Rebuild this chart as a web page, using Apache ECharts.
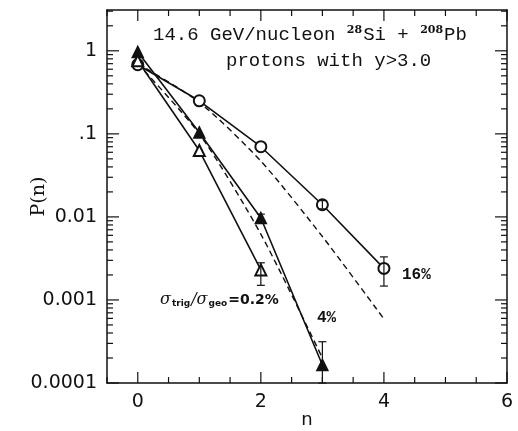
<!DOCTYPE html>
<html><head><meta charset="utf-8">
<script src="https://cdn.jsdelivr.net/npm/echarts@6/dist/echarts.min.js"></script>
<style>html,body{margin:0;padding:0;background:#fff}#c{width:518px;height:431px}</style>
</head><body><div id="c"></div>
<script>
// ---- data ----
const nValues = [0, 1, 2, 3, 4];
const xMajorTicks = [0, 2, 4, 6];
const xMinorTicks = [-0.5, 0.5, 1, 1.5, 2.5, 3, 3.5, 4.5, 5, 5.5];
const yMajorTicks = [0.0001, 0.001, 0.01, 0.1, 1];
const yTickLabels = {'0.0001': '0.0001', '0.001': '0.001', '0.01': '0.01', '0.1': '.1', '1': '1'};
const yMinorTicks = [
  0.0002,0.0003,0.0004,0.0005,0.0006,0.0007,0.0008,0.0009,
  0.002,0.003,0.004,0.005,0.006,0.007,0.008,0.009,
  0.02,0.03,0.04,0.05,0.06,0.07,0.08,0.09,
  0.2,0.3,0.4,0.5,0.6,0.7,0.8,0.9,
  2,3
];
const p16 = [0.68, 0.25, 0.070, 0.014, 0.0024];          // open circles, 16%
const p4 = [0.97, 0.104, 0.0097, 0.000165];               // filled triangles, 4%
const p02 = [0.76, 0.063, 0.0023];                        // open triangles, 0.2%
const dash16 = [0.70, 0.24, 0.047, 0.0058, 0.00059];      // dashed curve near 16%
const dash4 = [0.70, 0.10, 0.0062, 0.00020];              // dashed curve near 4%
// error bars: [n, low, high]
const err16 = [[3, 0.0125, 0.0157], [4, 0.00147, 0.0033]];
const err4 = [[2, 0.0086, 0.0108], [3, 0.0001, 0.000314]];
const err02 = [[2, 0.0015, 0.0028]];

const pairs = (vals) => vals.map((v, i) => [nValues[i], v]);

const chart = echarts.init(document.getElementById('c'), null, {renderer: 'canvas'});
const black = '#111';
const serif = '"DejaVu Serif", "Liberation Serif", serif';
const mono = '"Liberation Mono", "DejaVu Sans Mono", monospace';
const sans = '"DejaVu Sans", sans-serif';

function xAxisDef(pos, labels) {
  return {
    type: 'value', position: pos, min: -0.5, max: 6,
    axisLine: {show: true, onZero: false, lineStyle: {color: black, width: 1.5}},
    axisTick: {show: false},
    axisLabel: labels ? {show: true, customValues: xMajorTicks, color: black, fontSize: 19, fontFamily: sans, margin: 10} : {show: false},
    splitLine: {show: false}
  };
}
function yAxisDef(pos, labels) {
  return {
    type: 'log', logBase: 10, position: pos, min: 0.0001, max: 3.1,
    axisLine: {show: true, onZero: false, lineStyle: {color: black, width: 1.5}},
    axisTick: {show: false},
    axisLabel: labels ? {show: true, customValues: yMajorTicks, color: black, fontSize: 19, fontFamily: sans, margin: 10,
      formatter: (v) => { for (const k in yTickLabels) { if (Math.abs(Math.log10(v) - Math.log10(+k)) < 1e-6) return yTickLabels[k]; } return ''; }} : {show: false},
    splitLine: {show: false}, minorTick: {show: false}
  };
}

const xAxes = [
  Object.assign(xAxisDef('bottom', true), {name: 'n', nameLocation: 'middle', nameGap: 28, nameMoveOverlap: false, nameTextStyle: {color: black, fontSize: 18, fontFamily: sans}}),
  xAxisDef('top', false)
];
const yAxes = [
  Object.assign(yAxisDef('left', true), {name: 'P(n)', nameLocation: 'middle', nameGap: 58, nameMoveOverlap: false, nameRotate: 90, nameTextStyle: {color: black, fontSize: 19, fontFamily: serif}}),
  yAxisDef('right', false)
];

// tick marks drawn inward on all four sides, positioned through the axis scales
function xTickSeries(values, len) {
  return {
    type: 'custom', xAxisIndex: 0, yAxisIndex: 0, clip: false, z: 6, silent: true,
    data: values.map(v => [v, 1]),
    renderItem: function (params, api) {
      const cs = params.coordSys;
      const px = api.coord([api.value(0), 1])[0];
      const st = {stroke: black, lineWidth: 1.2};
      const yb = cs.y + cs.height, yt = cs.y;
      return {type: 'group', children: [
        {type: 'line', shape: {x1: px, y1: yb, x2: px, y2: yb - len}, style: st},
        {type: 'line', shape: {x1: px, y1: yt, x2: px, y2: yt + len}, style: st}
      ]};
    }
  };
}
function yTickSeries(values, len) {
  return {
    type: 'custom', xAxisIndex: 0, yAxisIndex: 0, clip: false, z: 6, silent: true,
    data: values.map(v => [0, v]),
    renderItem: function (params, api) {
      const cs = params.coordSys;
      const py = api.coord([0, api.value(1)])[1];
      const st = {stroke: black, lineWidth: 1.2};
      const xl = cs.x, xr = cs.x + cs.width;
      return {type: 'group', children: [
        {type: 'line', shape: {x1: xl, y1: py, x2: xl + len, y2: py}, style: st},
        {type: 'line', shape: {x1: xr, y1: py, x2: xr - len, y2: py}, style: st}
      ]};
    }
  };
}

function errSeries(data) {
  return {
    type: 'custom', xAxisIndex: 0, yAxisIndex: 0, data: data, z: 5,
    renderItem: function (params, api) {
      const x = api.value(0);
      const lo = api.coord([x, api.value(1)]);
      const hi = api.coord([x, api.value(2)]);
      const cap = 4;
      const st = {stroke: black, lineWidth: 1.2};
      return {type: 'group', children: [
        {type: 'line', shape: {x1: lo[0], y1: lo[1], x2: hi[0], y2: hi[1]}, style: st},
        {type: 'line', shape: {x1: lo[0] - cap, y1: lo[1], x2: lo[0] + cap, y2: lo[1]}, style: st},
        {type: 'line', shape: {x1: hi[0] - cap, y1: hi[1], x2: hi[0] + cap, y2: hi[1]}, style: st}
      ]};
    }
  };
}

function lineSeries(data, symbol, size, dashed) {
  return {
    type: 'line', xAxisIndex: 0, yAxisIndex: 0, data: data,
    symbol: symbol, symbolSize: size, showSymbol: symbol !== 'none',
    smooth: dashed ? 0.25 : false,
    lineStyle: {color: black, width: dashed ? 1.4 : 1.6, type: dashed ? [6, 4] : 'solid'},
    itemStyle: {color: black, borderColor: black, borderWidth: 1.5},
    z: dashed ? 2 : 3, animation: false
  };
}

const option = {
  animation: false,
  backgroundColor: '#fff',
  grid: {left: 107, right: 11, top: 10, bottom: 48, containLabel: false, outerBoundsMode: 'none'},
  xAxis: xAxes,
  yAxis: yAxes,
  series: [
    xTickSeries(xMajorTicks, 11), xTickSeries(xMinorTicks, 6),
    yTickSeries(yMajorTicks, 12), yTickSeries(yMinorTicks, 6),
    lineSeries(pairs(dash16), 'none', 0, true),
    lineSeries(pairs(dash4), 'none', 0, true),
    lineSeries(pairs(p16), 'emptyCircle', 11, false),
    lineSeries(pairs(p4), 'triangle', 11, false),
    lineSeries(pairs(p02), 'emptyTriangle', 11, false),
    errSeries(err16), errSeries(err4), errSeries(err02)
  ],
  graphic: [
    {type: 'text', left: 153, top: 25, z: 10, style: {
      text: '{a|14.6 GeV/nucleon }{s|28}{a|Si + }{s|208}{a|Pb}',
      rich: {a: {fontFamily: mono, fontSize: 19, fill: black}, s: {fontFamily: serif, fontSize: 11, fontWeight: 'bold', fill: black, verticalAlign: 'top', padding: [0, 1, 8, 0]}}}},
    {type: 'text', left: 226, top: 51, z: 10, style: {text: 'protons with y>3.0', fontFamily: mono, fontSize: 19, fill: black}},
    {type: 'text', left: 402, top: 267, z: 10, style: {text: '16%', fontFamily: mono, fontSize: 16, fontWeight: 'bold', fill: black}},
    {type: 'text', left: 317, top: 310, z: 10, style: {text: '4%', fontFamily: mono, fontSize: 16, fontWeight: 'bold', fill: black}},
    {type: 'text', left: 160, top: 292, z: 10, style: {
      text: '{g|σ}{t|trig}{g|/σ}{t|geo}{e|=0.2%}',
      rich: {g: {fontFamily: serif, fontSize: 16, fontStyle: 'italic', fill: black},
             t: {fontFamily: sans, fontSize: 9, fontWeight: 'bold', fill: black, verticalAlign: 'bottom', padding: [6, 1, 0, 1]},
             e: {fontFamily: sans, fontSize: 14, fontWeight: 'bold', fill: black}}}}
  ]
};
chart.setOption(option);
</script>
</body></html>
